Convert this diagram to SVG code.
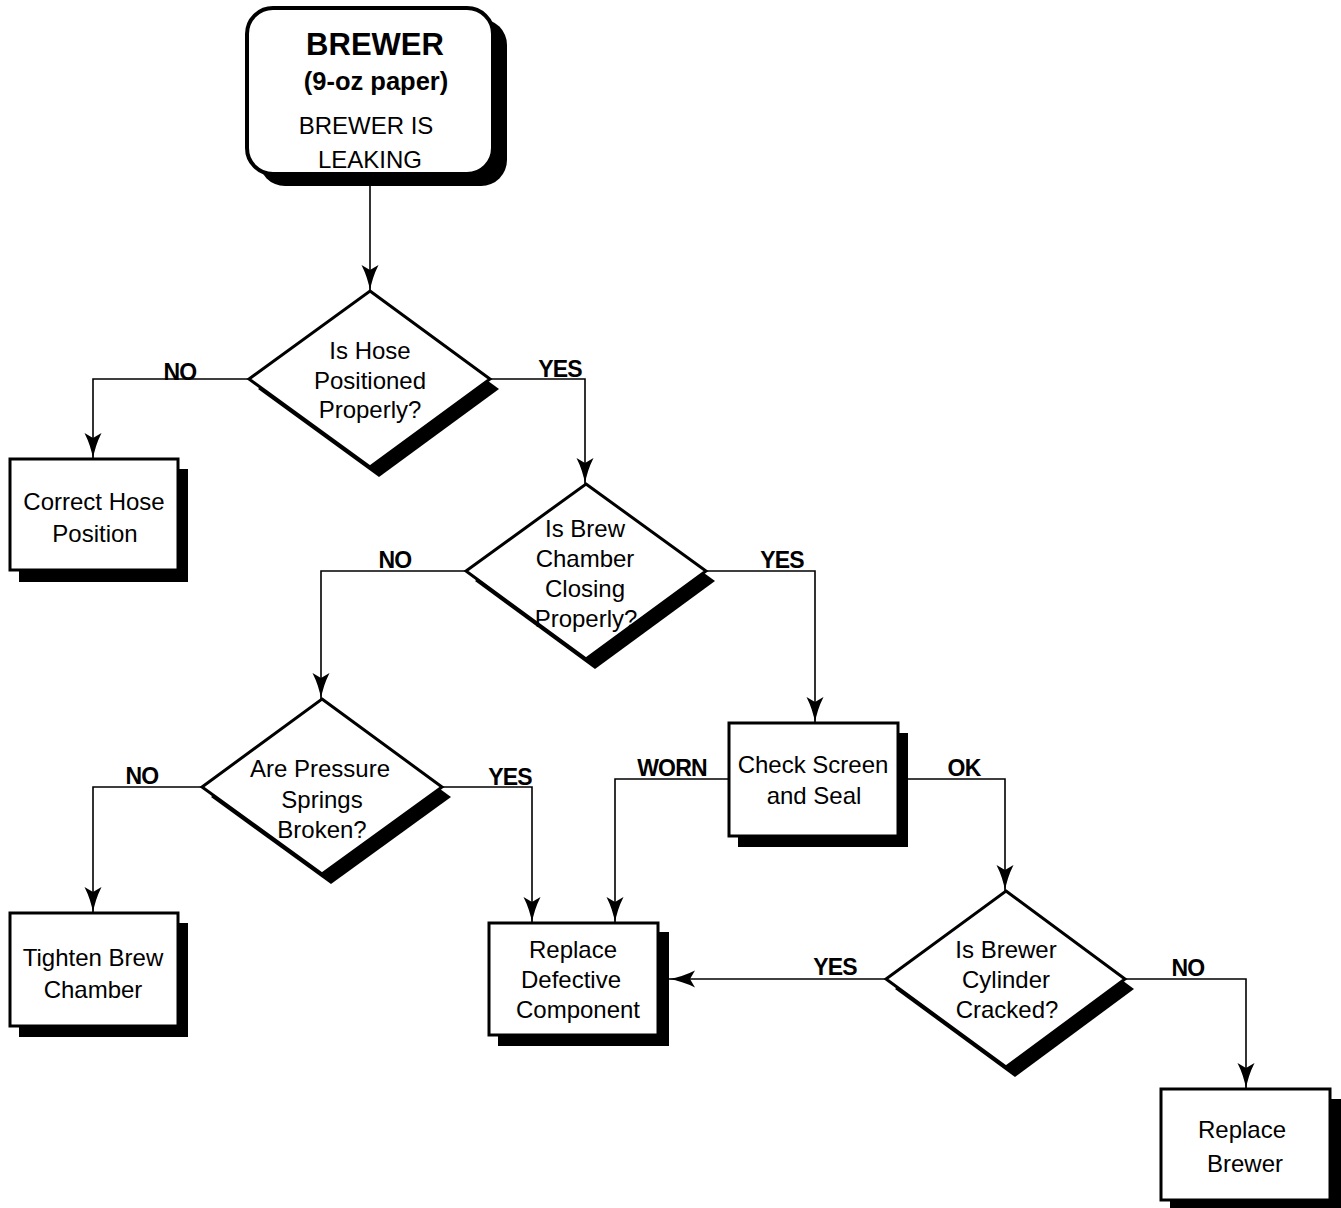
<svg xmlns="http://www.w3.org/2000/svg" width="1341" height="1208" viewBox="0 0 1341 1208">
  <defs>
    <marker id="arrow" markerUnits="userSpaceOnUse" markerWidth="27" markerHeight="18" refX="26" refY="8.5" orient="auto" viewBox="0 0 27 18">
      <path d="M0,0 Q13,6.5 26,8.5 Q13,10.5 0,17 L5,8.5 Z" fill="#000"/>
    </marker>
  </defs>
  <style>
    .shadow { fill: #000; stroke: none; }
    .box { fill: #fff; stroke: #000; stroke-width: 3; }
    .dia { fill: #fff; stroke: #000; stroke-width: 3; stroke-linejoin: miter; }
    .txt { font-family: "Liberation Sans", Arial, sans-serif; font-size: 24px; text-anchor: middle; fill: #000; }
    .lbl { font-family: "Liberation Sans", Arial, sans-serif; font-size: 23px; font-weight: bold; text-anchor: middle; fill: #000; letter-spacing: -0.8px; }
    .conn { fill: none; stroke: #000; stroke-width: 1.6; marker-end: url(#arrow); }
  </style>
  <rect width="1341" height="1208" fill="#fff"/>

  <!-- connectors -->
  <g id="connectors">
    <path class="conn" d="M370,186 L370,291"/>
    <path class="conn" d="M249,379 L93,379 L93,459"/>
    <path class="conn" d="M490,379 L585,379 L585,484"/>
    <path class="conn" d="M466,571 L321,571 L321,699"/>
    <path class="conn" d="M706,571 L815,571 L815,723"/>
    <path class="conn" d="M202,787 L93,787 L93,913"/>
    <path class="conn" d="M442,787 L532,787 L532,923"/>
    <path class="conn" d="M729,779 L615,779 L615,923"/>
    <path class="conn" d="M898,779 L1005,779 L1005,891"/>
    <path class="conn" d="M886,979 L669,979"/>
    <path class="conn" d="M1125,979 L1246,979 L1246,1089"/>
  </g>

  <!-- branch labels -->
  <g id="labels">
    <text class="lbl" x="180" y="380">NO</text>
    <text class="lbl" x="560" y="377">YES</text>
    <text class="lbl" x="395" y="568">NO</text>
    <text class="lbl" x="782" y="568">YES</text>
    <text class="lbl" x="142" y="784">NO</text>
    <text class="lbl" x="510" y="785">YES</text>
    <text class="lbl" x="672" y="776">WORN</text>
    <text class="lbl" x="964" y="776">OK</text>
    <text class="lbl" x="835" y="975">YES</text>
    <text class="lbl" x="1188" y="976">NO</text>
  </g>

  <!-- start node -->
  <g id="start">
    <rect class="shadow" x="259" y="19" width="248" height="167" rx="26"/>
    <rect x="247" y="8" width="246" height="166" rx="26" fill="#fff" stroke="#000" stroke-width="4"/>
    <text class="txt" x="375" y="55" style="font-weight:bold;font-size:31px">BREWER</text>
    <text class="txt" x="376" y="90" style="font-weight:bold;font-size:25.5px">(9-oz paper)</text>
    <text class="txt" x="366" y="134">BREWER IS</text>
    <text class="txt" x="370" y="168">LEAKING</text>
  </g>

  <!-- decision: hose -->
  <g id="q-hose">
    <polygon class="shadow" points="379,301 499,389 379,477 258,389"/>
    <polygon class="dia" points="370,291 490,379 370,467 249,379"/>
    <text class="txt" x="370" y="359">Is Hose</text>
    <text class="txt" x="370" y="389">Positioned</text>
    <text class="txt" x="370" y="418">Properly?</text>
  </g>

  <g id="correct-hose">
    <rect class="shadow" x="19" y="469" width="169" height="113"/>
    <rect class="box" x="10" y="459" width="168" height="111"/>
    <text class="txt" x="94" y="510">Correct Hose</text>
    <text class="txt" x="95" y="542">Position</text>
  </g>

  <!-- decision: brew chamber -->
  <g id="q-chamber">
    <polygon class="shadow" points="595,494 715,581 595,669 475,581"/>
    <polygon class="dia" points="586,484 706,571 586,659 466,571"/>
    <text class="txt" x="585" y="537">Is Brew</text>
    <text class="txt" x="585" y="567">Chamber</text>
    <text class="txt" x="585" y="597">Closing</text>
    <text class="txt" x="586" y="627">Properly?</text>
  </g>

  <!-- decision: springs -->
  <g id="q-springs">
    <polygon class="shadow" points="331,709 451,797 331,884 211,797"/>
    <polygon class="dia" points="322,699 442,787 322,874 202,787"/>
    <text class="txt" x="320" y="777">Are Pressure</text>
    <text class="txt" x="322" y="808">Springs</text>
    <text class="txt" x="322" y="838">Broken?</text>
  </g>

  <g id="tighten">
    <rect class="shadow" x="19" y="923" width="169" height="114"/>
    <rect class="box" x="10" y="913" width="168" height="113"/>
    <text class="txt" x="93" y="966">Tighten Brew</text>
    <text class="txt" x="93" y="998">Chamber</text>
  </g>

  <g id="check-screen">
    <rect class="shadow" x="738" y="733" width="170" height="114"/>
    <rect class="box" x="729" y="723" width="169" height="113"/>
    <text class="txt" x="813" y="773">Check Screen</text>
    <text class="txt" x="814" y="804">and Seal</text>
  </g>

  <g id="replace-component">
    <rect class="shadow" x="498" y="932" width="171" height="114"/>
    <rect class="box" x="489" y="923" width="169" height="112"/>
    <text class="txt" x="573" y="958">Replace</text>
    <text class="txt" x="571" y="988">Defective</text>
    <text class="txt" x="578" y="1018">Component</text>
  </g>

  <!-- decision: cylinder -->
  <g id="q-cylinder">
    <polygon class="shadow" points="1015,901 1134,989 1015,1077 895,989"/>
    <polygon class="dia" points="1006,891 1125,979 1006,1067 886,979"/>
    <text class="txt" x="1006" y="958">Is Brewer</text>
    <text class="txt" x="1006" y="988">Cylinder</text>
    <text class="txt" x="1007" y="1018">Cracked?</text>
  </g>

  <g id="replace-brewer">
    <rect class="shadow" x="1170" y="1099" width="171" height="112"/>
    <rect class="box" x="1161" y="1089" width="169" height="111"/>
    <text class="txt" x="1242" y="1138">Replace</text>
    <text class="txt" x="1245" y="1172">Brewer</text>
  </g>
</svg>
